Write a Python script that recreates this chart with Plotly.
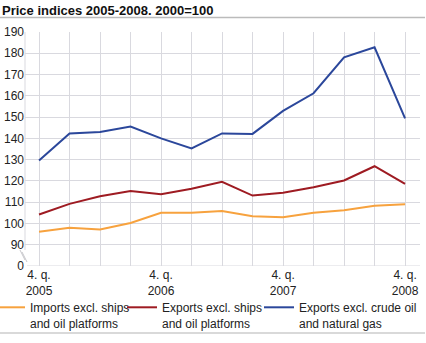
import plotly.graph_objects as go

quarters = list(range(13))
tick_labels = ["4. q.<br>2005", "", "", "", "4. q.<br>2006", "", "", "", "4. q.<br>2007", "", "", "", "4. q.<br>2008"]

imports = [96.1, 98.0, 97.2, 100.2, 105.0, 105.0, 105.9, 103.4, 102.9, 105.0, 106.2, 108.3, 109.0]
exports_ships = [104.2, 109.2, 112.8, 115.3, 113.7, 116.3, 119.6, 113.1, 114.4, 117.0, 120.2, 126.9, 118.6]
exports_oil = [129.6, 142.3, 143.0, 145.6, 140.0, 135.3, 142.3, 142.1, 152.9, 161.2, 178.1, 182.8, 149.4]

names = ["Imports excl. ships<br>and oil platforms",
         "Exports excl. ships<br>and oil platforms",
         "Exports excl. crude oil<br>and natural gas"]
colors = ["#F7A23E", "#9E1B22", "#2B479B"]

y_ticks = [80, 90, 100, 110, 120, 130, 140, 150, 160, 170, 180, 190]
y_ticktext = ["0", "90", "100", "110", "120", "130", "140", "150", "160", "170", "180", "190"]

FONT = "Liberation Sans, Arial, sans-serif"

W, H = 426, 343
L, R, T, B = 25, 6, 32, 77
pw = W - L - R
ph = H - T - B

def px_x(px):
    return (px - L) / pw

def px_y(py):
    return (H - B - py) / ph

legend_ids = ["legend", "legend2", "legend3"]
legend_text_x = [31, 163, 300]

fig = go.Figure()
for vals, name, col, lid in zip([imports, exports_ships, exports_oil], names, colors, legend_ids):
    fig.add_trace(go.Scatter(x=quarters, y=vals, mode="lines", name=name, legend=lid,
                             line=dict(color=col, width=2)))

grid = "#D9D9DF"
shapes = [
    # separator lines
    dict(type="line", xref="paper", yref="paper", x0=px_x(0), x1=px_x(425), y0=px_y(17.5), y1=px_y(17.5),
         line=dict(color="#BBBBBB", width=1.5)),
    dict(type="line", xref="paper", yref="paper", x0=px_x(0), x1=px_x(425), y0=px_y(333), y1=px_y(333),
         line=dict(color="#CCCCCC", width=1.5)),
    # y axis line with break
    dict(type="line", xref="paper", yref="y", x0=0, x1=0, y0=87.5, y1=190, line=dict(color=grid, width=1)),
    dict(type="line", xref="paper", yref="paper", x0=px_x(20), x1=px_x(25), y0=px_y(250), y1=px_y(260),
         line=dict(color="#C8C8CC", width=1)),
    dict(type="line", xref="paper", yref="paper", x0=px_x(22), x1=px_x(27), y0=px_y(252), y1=px_y(262),
         line=dict(color="#C8C8CC", width=1)),
    # bottom axis line
    dict(type="line", xref="paper", yref="y", x0=px_x(27), x1=1, y0=80, y1=80, line=dict(color=grid, width=1)),
]

legend_common = dict(orientation="h", xanchor="left", y=px_y(293), yanchor="top",
                     valign="top", font=dict(size=12, color="#222222"),
                     bgcolor="rgba(0,0,0,0)")

fig.update_layout(
    width=W, height=H,
    margin=dict(l=L, r=R, t=T, b=B, autoexpand=False),
    paper_bgcolor="white", plot_bgcolor="white",
    font=dict(family=FONT, size=12, color="#222222"),
    title=dict(text="<b>Price indices 2005-2008. 2000=100</b>", x=2 / W, xanchor="left", xref="container",
               y=1 - 10 / H, yanchor="middle", yref="container",
               font=dict(family=FONT, size=13, color="#111111")),
    xaxis=dict(range=[-0.46, 12.49], tickmode="array", tickvals=quarters, ticktext=tick_labels,
               showgrid=True, gridcolor=grid, gridwidth=1, zeroline=False, showline=False,
               ticks="", tickfont=dict(size=12, color="#222222"), fixedrange=True),
    yaxis=dict(range=[80, 190], tickmode="array", tickvals=y_ticks, ticktext=y_ticktext,
               showgrid=True, gridcolor=grid, gridwidth=1, zeroline=False, showline=False,
               ticks="", tickfont=dict(size=12, color="#222222"), fixedrange=True),
    legend=dict(x=px_x(legend_text_x[0] - 41), **legend_common),
    legend2=dict(x=px_x(legend_text_x[1] - 41), **legend_common),
    legend3=dict(x=px_x(legend_text_x[2] - 41), **legend_common),
    shapes=shapes,
    showlegend=True,
)

fig.write_html("out.html")
